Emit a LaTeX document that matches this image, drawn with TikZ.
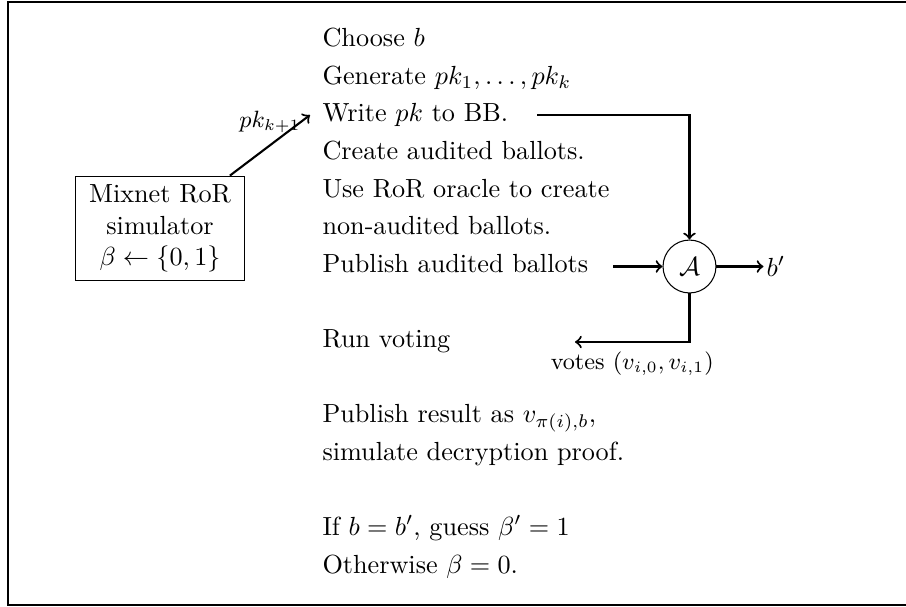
\documentclass[tikz,border=0pt]{standalone}
\begin{document}
\begin{tikzpicture}[x=0.3817pt, y=-0.3817pt,
  line/.style={inner sep=0pt, anchor=mid west},
  flow/.style={->, thick},
  simbox/.style={draw, align=center, inner xsep=5pt, inner ysep=3.33pt},
  adv/.style={draw, circle, minimum size=20.2pt, inner sep=0pt}]
\useasboundingbox (0,0) rectangle (906,606);
% open frame: top, left and bottom edges
\draw[line width=0.6pt] (906,2) -- (8,2) -- (8,605) -- (906,605);

% game description, one line per node
\node[line] (t1)  at (322,41)    {Choose $b$};
\node[line] (t2)  at (322,78.6)  {Generate $pk_1,\dots,pk_k$};
\node[line] (t3)  at (322,116.2) {Write $pk$ to BB.};
\node[line] (t4)  at (322,153.8) {Create audited ballots.};
\node[line] (t5)  at (322,191.4) {Use RoR oracle to create};
\node[line] (t6)  at (322,229)   {non-audited ballots.};
\node[line] (t7)  at (322,266.6) {Publish audited ballots};
\node[line] (t8)  at (322,341.8) {Run voting};
\node[line] (t9)  at (322,417)   {Publish result as $v_{\pi(i),b}$,};
\node[line] (t10) at (322,454.6) {simulate decryption proof.};
\node[line] (t11) at (322,529.8) {If $b=b'$, guess $\beta'=1$};
\node[line] (t12) at (322,567.4) {Otherwise $\beta=0$.};

% simulator box and the extra key it hands over
\node[simbox] (sim) at (160,228.5) {Mixnet RoR\\simulator\\$\beta\leftarrow\{0,1\}$};
\coordinate (pk) at (310,115);
\draw[flow] (sim) -- (pk);
\node[font=\small, inner sep=0pt, anchor=east] (pklabel) at (301,122) {$pk_{k+1}$};

% adversary and its inputs/outputs
\node[adv] (A) at (689.5,266.5) {$\mathcal{A}$};
\coordinate (bb) at (537,115);
\draw[flow] (bb) -| (A);
\coordinate (pin) at (613,266.5);
\draw[flow] (pin) -- (A);
\node[inner sep=0pt, inner xsep=1pt, anchor=west] (bout) at (763.5,266.5) {$b'$};
\draw[flow] (A) -- (bout);
\coordinate (vend) at (575,342);
\draw[flow] (A) |- node[below, font=\small, pos=0.75] (votes) {votes $(v_{i,0},v_{i,1})$} (vend);
\end{tikzpicture}
\end{document}
